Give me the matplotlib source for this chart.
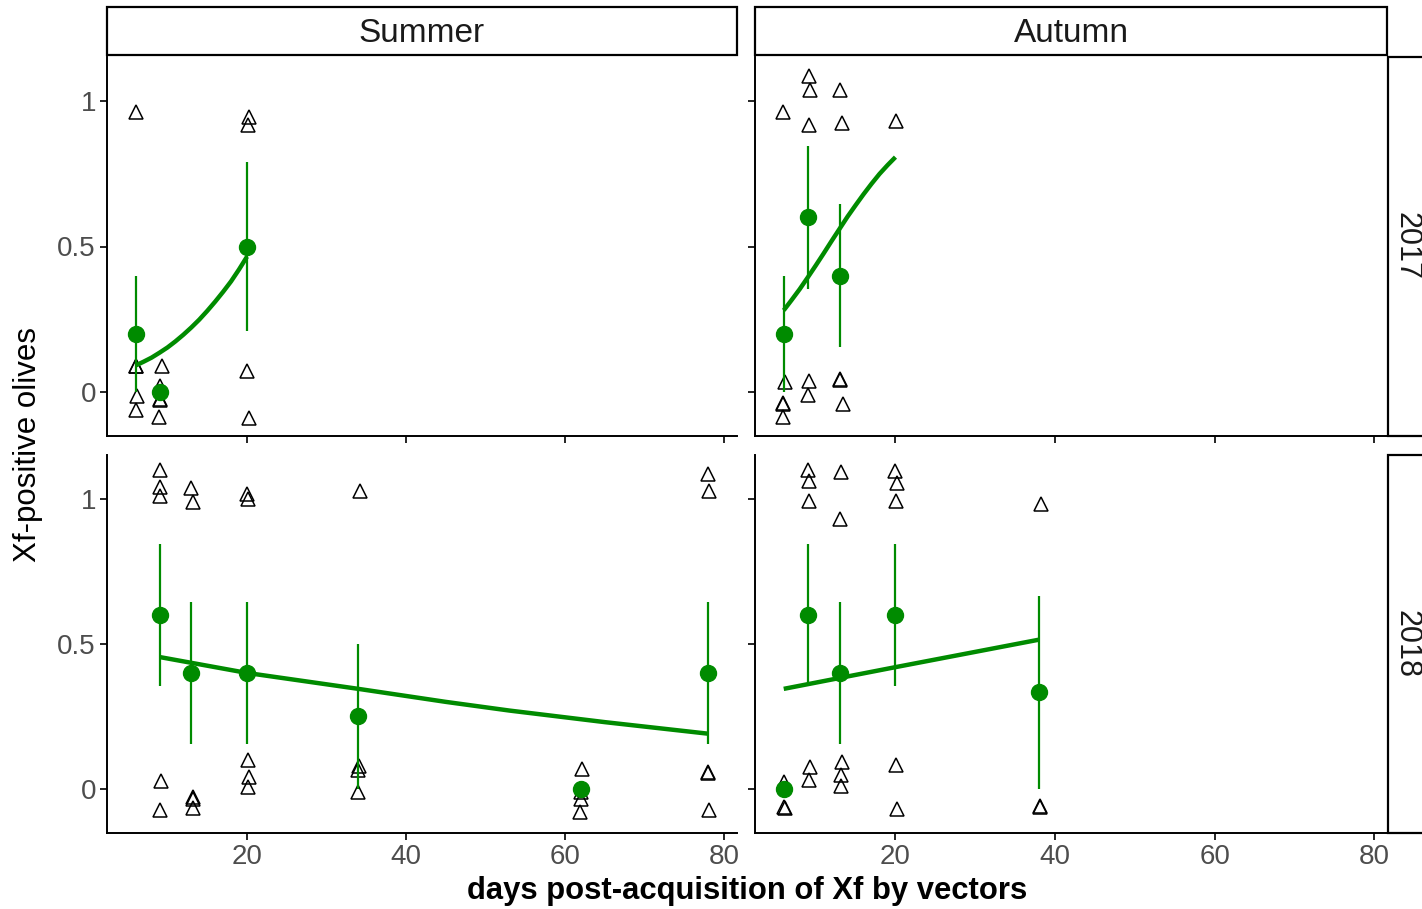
import matplotlib
matplotlib.use('Agg')
import matplotlib.pyplot as plt
from matplotlib.patches import Rectangle

plt.rcParams['font.family'] = ['Liberation Sans', 'DejaVu Sans']

sum17_x = [6.0, 6.0, 6.0, 6.2, 6.0, 9.3, 9.05, 9.0, 9.1, 8.9, 20.2, 20.1, 20.0, 20.3]
sum17_y = [0.963, 0.087, 0.087, -0.014, -0.062, 0.087, 0.02, -0.025, -0.03, -0.088, 0.946, 0.917, 0.07, -0.09]

aut17_x = [5.95, 6.2, 5.95, 5.95, 5.95, 9.2, 9.3, 9.2, 9.2, 9.0, 13.0, 13.3, 13.0, 13.0, 13.4, 20.1]
aut17_y = [0.963, 0.032, -0.043, -0.040, -0.089, 1.086, 1.038, 0.917, 0.036, -0.01,
           1.038, 0.925, 0.04, 0.042, -0.043, 0.931]

sum18_x = [9.06, 9.06, 9.06, 9.2, 9.06, 12.9, 13.2, 13.2, 13.2, 13.2, 20.0, 20.1, 20.1, 20.3, 20.1,
           34.2, 34.1, 34.0, 33.9, 62.1, 62.0, 62.0, 61.9, 78.0, 78.1, 77.9, 78.0, 78.1]
sum18_y = [1.101, 1.044, 1.012, 0.025, -0.075, 1.040, 0.991, -0.029, -0.035, -0.067, 1.017, 1.002, 0.098, 0.040, 0.006,
           1.029, 0.080, 0.063, -0.011, 0.067, -0.011, -0.034, -0.080, 1.086, 1.029, 0.057, 0.055, -0.075]

aut18_x = [6.0, 6.1, 6.0, 9.1, 9.2, 9.2, 9.3, 9.2, 13.2, 13.0, 13.3, 13.2, 13.2,
           20.0, 20.2, 20.1, 20.1, 20.2, 38.2, 38.1, 38.1]
aut18_y = [0.023, -0.067, -0.064, 1.101, 1.063, 0.994, 0.075, 0.031, 1.094, 0.933, 0.092, 0.048, 0.011,
           1.098, 1.057, 0.994, 0.083, -0.069, 0.983, -0.063, -0.061]

# means and standard errors
sum17_mx = [6, 9, 20]
sum17_m = [0.2, 0.0, 0.5]
sum17_se = [0.2, 0.0, 0.29]

aut17_mx = [6, 9, 13]
aut17_m = [0.2, 0.6, 0.4]
aut17_se = [0.2, 0.245, 0.245]

sum18_mx = [9, 13, 20, 34, 62, 78]
sum18_m = [0.6, 0.4, 0.4, 0.25, 0.0, 0.4]
sum18_se = [0.245, 0.245, 0.245, 0.25, 0.0, 0.245]

aut18_mx = [6, 9, 13, 20, 38]
aut18_m = [0.0, 0.6, 0.4, 0.6, 0.333]
aut18_se = [0.0, 0.245, 0.245, 0.245, 0.333]

# fitted curves
sum17_fx = [6, 7, 8, 9, 10, 11, 12, 13, 14, 15, 16, 17, 18, 19, 20]
sum17_fy = [0.09, 0.103, 0.117, 0.134, 0.152, 0.173, 0.196, 0.221, 0.248, 0.278, 0.31, 0.344, 0.38, 0.421, 0.465]
aut17_fx = [6, 7, 8, 9, 10, 11, 12, 13, 14, 15, 16, 17, 18, 19, 20]
aut17_fy = [0.28, 0.316, 0.353, 0.393, 0.434, 0.476, 0.519, 0.561, 0.603, 0.642, 0.68, 0.716, 0.75, 0.78, 0.808]
sum18_fx = [9, 20, 34, 45, 53, 65, 78]
sum18_fy = [0.455, 0.40, 0.345, 0.30, 0.27, 0.23, 0.19]
aut18_fx = [6, 20, 38]
aut18_fy = [0.345, 0.42, 0.515]

seasons = ['Summer', 'Autumn']
years = ['2017', '2018']
x_ticks = [20, 40, 60, 80]
y_ticks = [0, 0.5, 1]
y_tick_labels = ['0', '0.5', '1']

panels = {
    (0, 0): (sum17_x, sum17_y, sum17_mx, sum17_m, sum17_se, sum17_fx, sum17_fy),
    (0, 1): (aut17_x, aut17_y, aut17_mx, aut17_m, aut17_se, aut17_fx, aut17_fy),
    (1, 0): (sum18_x, sum18_y, sum18_mx, sum18_m, sum18_se, sum18_fx, sum18_fy),
    (1, 1): (aut18_x, aut18_y, aut18_mx, aut18_m, aut18_se, aut18_fx, aut18_fy),
}

green = '#008B00'
grey = '#4D4D4D'

fig = plt.figure(figsize=(14.22, 9.09), dpi=100)

W, H = 1422, 909
col_px = [(107, 737), (755, 1387)]
row_px = [(57, 436), (455, 833)]

for (r, c), (jx, jy, mx, m, se, fx, fy) in panels.items():
    x0, x1 = col_px[c]
    y0, y1 = row_px[r]
    ax = fig.add_axes([x0 / W, 1 - y1 / H, (x1 - x0) / W, (y1 - y0) / H])
    ax.plot(jx, jy, linestyle='none', marker='^', ms=9.5, mfc='none', mec='black', mew=1.1, zorder=2)
    ax.errorbar(mx, m, yerr=se, fmt='none', ecolor=green, elinewidth=1.6, capsize=0, zorder=3)
    ax.plot(fx, fy, color=green, lw=3.2, solid_capstyle='butt', zorder=4)
    ax.plot(mx, m, linestyle='none', marker='o', ms=11.5, color=green, zorder=5)

    ax.set_xlim(2.4, 81.6)
    ax.set_ylim(-0.153, 1.153)
    ax.set_xticks(x_ticks)
    ax.set_yticks(y_ticks)
    ax.set_yticklabels(y_tick_labels)
    ax.spines['top'].set_visible(False)
    ax.spines['right'].set_visible(False)
    for s in ['left', 'bottom']:
        ax.spines[s].set_linewidth(1.4)
    ax.tick_params(direction='out', length=5, width=1.2, labelsize=20, labelcolor=grey, pad=3)
    if r == 0:
        ax.tick_params(labelbottom=False)
    if c == 1:
        ax.tick_params(labelleft=False)

# top strips
for c, name in enumerate(seasons):
    x0, x1 = col_px[c]
    fig.patches.append(Rectangle((x0 / W, 1 - 55 / H), (x1 - x0) / W, 48 / H,
                                 transform=fig.transFigure, facecolor='white',
                                 edgecolor='black', lw=1.6))
    fig.text((x0 + x1) / 2 / W, 1 - 33 / H, name, ha='center', va='center', fontsize=24, color='#1A1A1A')

# right strips (cut off by figure edge)
for r, yr in enumerate(years):
    y0, y1 = row_px[r]
    fig.patches.append(Rectangle((1388 / W, 1 - y1 / H), 60 / W, (y1 - y0) / H,
                                 transform=fig.transFigure, facecolor='white',
                                 edgecolor='black', lw=1.6))
    fig.text(1406 / W, 1 - (y0 + y1) / 2 / H, yr, ha='center', va='center', rotation=-90,
             fontsize=22, color='#1A1A1A')

fig.text(747 / W, 1 - 891 / H, 'days post-acquisition of Xf by vectors', ha='center', va='center',
         fontsize=22.3, fontweight='bold')
fig.text(28 / W, 1 - 445 / H, 'Xf-positive olives', ha='center', va='center', rotation=90, fontsize=22.5)

fig.savefig('out.png', dpi=100)
